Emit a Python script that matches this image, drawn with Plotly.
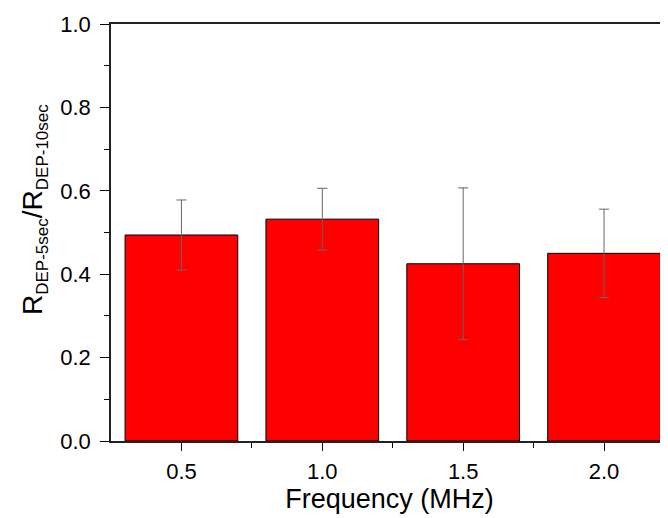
import plotly.graph_objects as go

freq = [0.5, 1.0, 1.5, 2.0]
ratio = [0.494, 0.532, 0.425, 0.450]
err = [0.084, 0.074, 0.182, 0.106]
xticks = [0.5, 1.0, 1.5, 2.0]
xticklabels = ["0.5", "1.0", "1.5", "2.0"]
yticks = [0.0, 0.2, 0.4, 0.6, 0.8, 1.0]
yticklabels = ["0.0", "0.2", "0.4", "0.6", "0.8", "1.0"]

fig = go.Figure()
fig.add_trace(go.Bar(
    x=freq, y=ratio, width=0.4,
    marker=dict(color="#FF0000", line=dict(color="#000000", width=1)),
    error_y=dict(type="data", array=err, visible=True, color="#666666",
                 thickness=1, width=5),
))

font = "Liberation Sans, Arial, sans-serif"
sub = "<sub><span style='font-size:17px'>{}</span></sub>"
ytitle = "R" + sub.format("DEP-5sec") + "/R" + sub.format("DEP-10sec")

# page body has an 8px default margin; figure is sized so plot area lands where the reference has it
fig.update_layout(
    width=660, height=510,
    margin=dict(l=103, r=0, t=16, b=77),
    plot_bgcolor="white", paper_bgcolor="white",
    showlegend=False,
    font=dict(family=font, color="#000000"),
    xaxis=dict(
        range=[0.25, 2.227], tickvals=xticks, ticktext=xticklabels,
        ticks="outside", ticklen=8, tickwidth=1.3, tickcolor="#000",
        showline=True, linecolor="#222", linewidth=1.6, mirror=True,
        showgrid=False, zeroline=False,
        tickfont=dict(size=22), ticklabelstandoff=2,
        minor=dict(tickvals=[0.75, 1.25, 1.75], ticks="outside", ticklen=5, tickcolor="#000", tickwidth=1.3),
        title=dict(text="Frequency (MHz)", font=dict(size=27), standoff=6),
    ),
    yaxis=dict(
        range=[0, 1.0], tickvals=yticks, ticktext=yticklabels,
        ticks="outside", ticklen=9, tickwidth=1.3, tickcolor="#000",
        showline=True, linecolor="#222", linewidth=1.6,
        showgrid=False, zeroline=False,
        tickfont=dict(size=22), ticklabelstandoff=5,
        minor=dict(tickvals=[0.1, 0.3, 0.5, 0.7, 0.9], ticks="outside", ticklen=5, tickcolor="#000", tickwidth=1.3),
    ),
    annotations=[dict(
        text=ytitle, textangle=-90, font=dict(size=28),
        xref="paper", yref="paper", x=0, y=0.554,
        xanchor="center", yanchor="middle", xshift=-76, showarrow=False,
    )],
)

fig.write_html("out.html")
